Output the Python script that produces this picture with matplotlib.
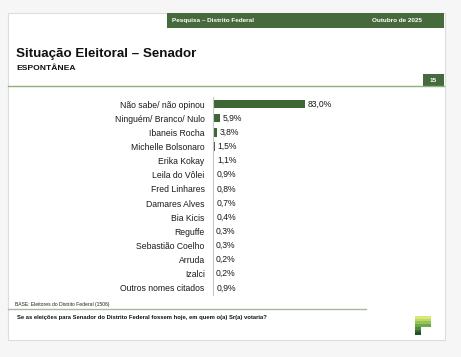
import matplotlib
matplotlib.use("Agg")
import matplotlib.pyplot as plt
from matplotlib.patches import Rectangle
import numpy as np

plt.rcParams['font.family'] = ['Liberation Sans', 'DejaVu Sans']

categories = ["Não sabe/ não opinou", "Ninguém/ Branco/ Nulo", "Ibaneis Rocha",
              "Michelle Bolsonaro", "Erika Kokay", "Leila do Vôlei", "Fred Linhares",
              "Damares Alves", "Bia Kicis", "Reguffe", "Sebastião Coelho", "Arruda",
              "Izalci", "Outros nomes citados"]
values = [83.0, 5.9, 3.8, 1.5, 1.1, 0.9, 0.8, 0.7, 0.4, 0.3, 0.3, 0.2, 0.2, 0.9]
value_labels = ["83,0%", "5,9%", "3,8%", "1,5%", "1,1%", "0,9%", "0,8%", "0,7%",
                "0,4%", "0,3%", "0,3%", "0,2%", "0,2%", "0,9%"]

W, H = 461, 357
fig = plt.figure(figsize=(W / 100, H / 100), dpi=100)
fig.patch.set_facecolor('#f6f6f6')

# overlay axes in pixel coordinates
ov = fig.add_axes([0, 0, 1, 1])
ov.set_xlim(0, W)
ov.set_ylim(H, 0)
ov.axis('off')

green = '#466a3c'
# card
ov.add_patch(Rectangle((8, 13), 437, 327, facecolor='white', edgecolor='#dddddd', lw=0.8))
# header bar
ov.add_patch(Rectangle((167, 13), 277, 15, facecolor=green, edgecolor='none'))
ov.text(172, 20.5, "Pesquisa – Distrito Federal", color='white', fontsize=4.6,
        fontweight='bold', va='center', ha='left')
ov.text(422, 20.5, "Outubro de 2025", color='white', fontsize=4.6,
        fontweight='bold', va='center', ha='right')
# title
ov.text(16, 54, "Situação Eleitoral – Senador", fontsize=9.6, fontweight='bold',
        va='center', ha='left', color='#111111')
ov.text(16, 68, "ESPONTÂNEA", fontsize=6.1, fontweight='bold', va='center',
        ha='left', color='#111111')
# page number
ov.add_patch(Rectangle((423, 74), 21, 12, facecolor=green, edgecolor='none'))
ov.text(433.5, 80, "15", color='white', fontsize=4.6, fontweight='bold', va='center', ha='center')
ov.plot([8, 444], [86, 86], color='#8db07a', lw=1.0)

# footer
ov.text(15, 304.5, "BASE: Eleitores do Distrito Federal (1506)", fontsize=3.6,
        va='center', ha='left', color='#222222')
ov.plot([8, 366], [309, 309], color='#a8b89c', lw=1.0)
ov.text(17, 318, "Se as eleições para Senador do Distrito Federal fossem hoje, em quem o(a) Sr(a) votaria?",
        fontsize=4.2, fontweight='bold', va='center', ha='left', color='#111111')

# logo "P"
logo_cols = ['#d8e87a', '#b9d964', '#95c455', '#6fa848', '#4e8a3c', '#336b30', '#22502a']
ys = np.linspace(316, 335, len(logo_cols) + 1)
for i, c in enumerate(logo_cols):
    y0, y1 = ys[i], ys[i + 1]
    right = 431 if y1 <= 328.5 else 421
    ov.add_patch(Rectangle((415, y0), right - 415, y1 - y0, facecolor=c, edgecolor='none'))

# chart axes: left at x=213, width 111 px (0..100), rows 97..295
ax_left, ax_top, ax_w, ax_h = 213, 97, 111, 198
ax = fig.add_axes([ax_left / W, 1 - (ax_top + ax_h) / H, ax_w / W, ax_h / H])
ax.set_facecolor('none')
y = np.arange(len(categories))
ax.barh(y, values, height=0.6, color='#3d6634', edgecolor='none')
ax.set_xlim(0, 100)
ax.set_ylim(len(categories) - 0.5, -0.5)
ax.set_yticks(y)
ax.set_yticklabels(categories, fontsize=6.2, color='#1a1a1a')
ax.tick_params(axis='y', length=0, pad=6)
ax.set_xticks([])
for s in ['top', 'right', 'bottom']:
    ax.spines[s].set_visible(False)
ax.spines['left'].set_color('#c8c8c8')
ax.spines['left'].set_linewidth(0.8)
for yi, v, lab in zip(y, values, value_labels):
    ax.text(v + 2.5, yi, lab, fontsize=6.2, va='center', ha='left', color='#1a1a1a')

fig.savefig('out.png', dpi=100, facecolor=fig.get_facecolor())
